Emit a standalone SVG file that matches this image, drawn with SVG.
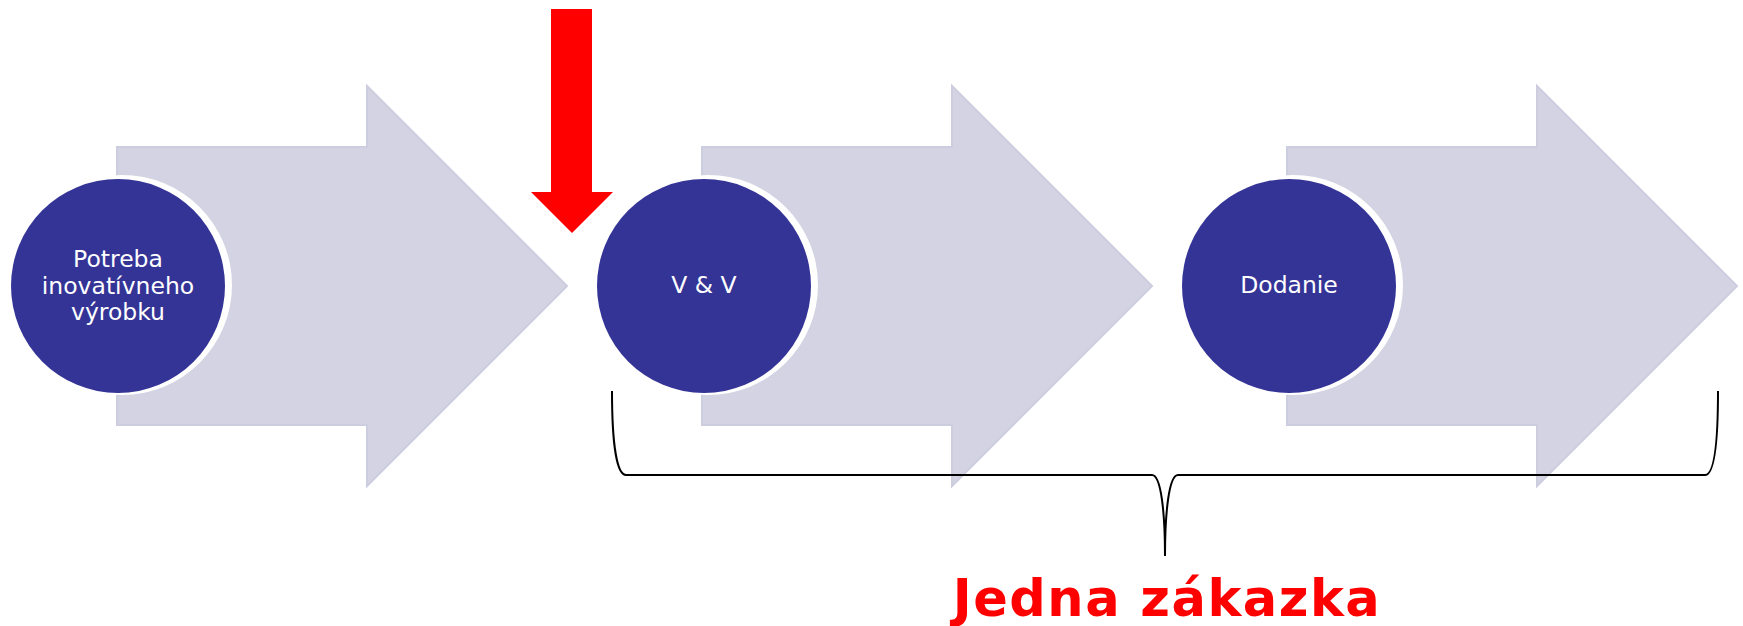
<svg xmlns="http://www.w3.org/2000/svg" width="1743" height="626" viewBox="0 0 1743 626">
<style>
.arr{fill:#d3d3e3;stroke:#cdcde0;stroke-width:2}
.rim{fill:#ffffff}
.circ{fill:#343497}
.lbl{font-family:"DejaVu Sans",Verdana,sans-serif;font-size:23.5px;fill:#ffffff;text-anchor:middle}
.brace{fill:none;stroke:#000000;stroke-width:2}
.title{font-family:"DejaVu Sans","Liberation Sans",sans-serif;font-weight:bold;font-size:51px;letter-spacing:1.5px;fill:#ff0000;text-anchor:middle}
</style>
<rect width="1743" height="626" fill="#ffffff"/>
<g id="arrow1"><polygon class="arr" points="117,147 367,147 367,86 567,286 367,486 367,425 117,425"/></g>
<g id="arrow2"><polygon class="arr" points="702,147 952,147 952,86 1152,286 952,486 952,425 702,425"/></g>
<g id="arrow3"><polygon class="arr" points="1287,147 1537,147 1537,86 1737,286 1537,486 1537,425 1287,425"/></g>
<g id="node1"><circle class="rim" cx="122" cy="285" r="110"/><circle class="circ" cx="118" cy="286" r="107"/>
<text class="lbl" x="118" y="267">Potreba</text><text class="lbl" x="118" y="294">inovatívneho</text><text class="lbl" x="118" y="320">výrobku</text></g>
<g id="node2"><circle class="rim" cx="708" cy="285" r="110"/><circle class="circ" cx="704" cy="286" r="107"/><text class="lbl" x="704" y="293">V &amp; V</text></g>
<g id="node3"><circle class="rim" cx="1293" cy="285" r="110"/><circle class="circ" cx="1289" cy="286" r="107"/><text class="lbl" x="1289" y="293">Dodanie</text></g>
<g id="redarrow"><polygon fill="#ff0000" points="551,9 592,9 592,192 613,192 572,233 531,192 551,192"/></g>
<g id="connectors"><path class="brace" d="M612,391 C612,445 617,475 626,475 L1152,475 C1161,475 1165,512 1165,556 C1165,512 1169,475 1178,475 L1705,475 C1714,475 1718,445 1718,391"/></g>
<g id="label"><text class="title" x="1167" y="616">Jedna zákazka</text></g>
</svg>
